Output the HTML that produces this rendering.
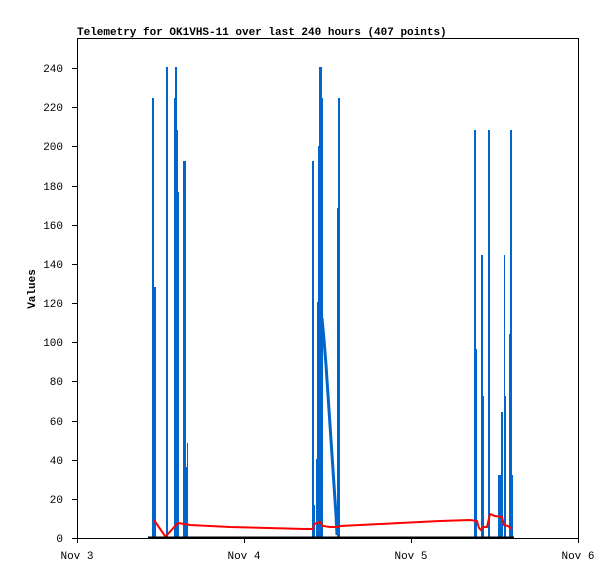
<!DOCTYPE html><html><head><style>body{margin:0;background:#fff}svg text{font-family:"Liberation Mono",monospace;font-size:11px}</style></head><body>
<svg width="615" height="579" xmlns="http://www.w3.org/2000/svg">
<rect width="615" height="579" fill="#fff"/>
<text x="77" y="35" font-weight="bold">Telemetry for OK1VHS-11 over last 240 hours (407 points)</text>
<rect x="77.5" y="38.5" width="501" height="500" fill="none" stroke="#000"/>
<g fill="#000" text-anchor="end">
<text x="63" y="542">0</text><text x="63" y="503">20</text><text x="63" y="464">40</text><text x="63" y="425">60</text><text x="63" y="385">80</text><text x="63" y="346">100</text><text x="63" y="307">120</text><text x="63" y="268">140</text><text x="63" y="229">160</text><text x="63" y="190">180</text><text x="63" y="150">200</text><text x="63" y="111">220</text><text x="63" y="72">240</text>
</g>
<g stroke="#000"><path d="M72 538.5h5M72 499.5h5M72 460.5h5M72 421.5h5M72 381.5h5M72 342.5h5M72 303.5h5M72 264.5h5M72 225.5h5M72 186.5h5M72 146.5h5M72 107.5h5M72 68.5h5M77.5 538v5M244.5 538v5M411.5 538v5M578.5 538v5"/></g>
<g text-anchor="middle"><text x="77" y="559">Nov 3</text><text x="244" y="559">Nov 4</text><text x="411" y="559">Nov 5</text><text x="578" y="559">Nov 6</text></g>
<text transform="translate(35,289) rotate(-90)" text-anchor="middle" font-weight="bold">Values</text>
<g fill="#0066cc">
<rect x="152" y="98" width="2" height="440"/><rect x="153" y="287" width="3" height="251"/>
<rect x="166" y="67" width="2" height="471"/>
<rect x="174" y="98" width="2" height="440"/><rect x="175" y="67" width="2" height="471"/><rect x="176" y="130" width="2" height="408"/><rect x="177" y="192" width="2" height="346"/>
<rect x="183" y="161" width="3" height="377"/><rect x="186" y="467" width="1" height="71"/><rect x="187" y="443" width="1" height="95"/>
<rect x="312" y="161" width="2" height="377"/><rect x="314" y="505" width="1" height="33"/>
<rect x="316" y="459" width="2" height="79"/><rect x="317" y="302" width="2" height="236"/><rect x="318" y="146" width="2" height="392"/><rect x="319" y="67" width="3" height="471"/><rect x="322" y="98" width="1" height="440"/>
<rect x="337" y="208" width="1" height="330"/><rect x="338" y="98" width="2" height="440"/>
<rect x="474" y="130" width="2" height="408"/><rect x="476" y="349" width="1" height="189"/>
<rect x="481" y="255" width="2" height="283"/><rect x="483" y="396" width="1" height="142"/>
<rect x="488" y="130" width="2" height="408"/>
<rect x="498" y="475" width="3" height="63"/><rect x="501" y="412" width="2" height="126"/><rect x="504" y="255" width="1" height="283"/><rect x="505" y="396" width="1" height="142"/>
<rect x="509" y="334" width="1" height="204"/><rect x="510" y="130" width="2" height="408"/><rect x="512" y="475" width="1" height="63"/>
</g>
<polyline fill="none" stroke="#0066cc" stroke-width="3" points="322,318 324,340 326,365 328,395 330,425 332,455 334,485 336,515 337,535"/>
<polyline fill="none" stroke="#0066cc" stroke-width="2" points="320,320 320,538"/>
<polyline fill="none" stroke="#ff0000" stroke-width="2" points="154,520 165,536 166,536 178,523 190,525 230,527 305,529 313,529 314,524 320,522 323,526 330,527 338,527 340,526 360,525 400,523 440,521 470,520 477,521 479,528 481,530 483,527 487,527 490,514 495,516 502,517 504,525 508,526 512,529"/>
<line x1="148" y1="537.5" x2="514" y2="537.5" stroke="#000" stroke-width="2"/>
</svg></body></html>
